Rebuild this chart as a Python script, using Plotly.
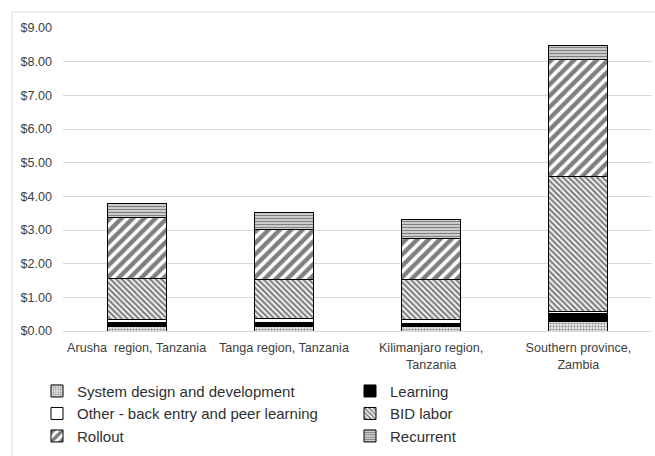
import plotly.graph_objects as go

categories = ["Arusha\u00a0 region, Tanzania", "Tanga region, Tanzania",
              "Kilimanjaro region,<br>Tanzania", "Southern province,<br>Zambia"]
system_design = [0.12, 0.13, 0.12, 0.27]
learning = [0.12, 0.11, 0.11, 0.25]
other = [0.10, 0.12, 0.10, 0.06]
bid_labor = [1.23, 1.18, 1.21, 4.02]
rollout = [1.79, 1.47, 1.20, 3.47]
recurrent = [0.44, 0.50, 0.56, 0.40]
y_ticks = [0, 1, 2, 3, 4, 5, 6, 7, 8, 9]
y_tick_labels = ["$%.2f" % v for v in y_ticks]

series = [
    ("System design and development", system_design, dict(shape=".", size=3, solidity=0.5, fgcolor="#303030", bgcolor="white"), "legend"),
    ("Learning", learning, None, "legend2"),
    ("Other - back entry and peer learning", other, None, "legend"),
    ("BID labor", bid_labor, dict(shape="\\", size=4, solidity=0.55, fgcolor="black", bgcolor="white"), "legend2"),
    ("Rollout", rollout, dict(shape="/", size=8, solidity=0.55, fgcolor="black", bgcolor="white"), "legend"),
    ("Recurrent", recurrent, dict(shape="-", size=3, solidity=0.6, fgcolor="black", bgcolor="white"), "legend2"),
]
solid_colors = {"Learning": "black", "Other - back entry and peer learning": "white"}

fig = go.Figure()
for name, vals, pat, lg in series:
    marker = dict(line=dict(color="black", width=1))
    if pat is None:
        marker["color"] = solid_colors[name]
    else:
        marker["color"] = "white"
        marker["pattern"] = pat
    fig.add_trace(go.Bar(name=name, x=categories, y=vals, marker=marker, width=0.4, legend=lg))

W, H = 655, 456
L, R, T, B = 63, 3, 28, 123
pw, ph = W - L - R, H - T - B

leg_common = dict(orientation="v", xanchor="left", yanchor="top", traceorder="normal",
                  font=dict(size=15, color="#303030"), tracegroupgap=0,
                  itemwidth=30, bgcolor="rgba(0,0,0,0)")
fig.update_layout(
    width=W, height=H, barmode="stack",
    margin=dict(l=L, r=R, t=T, b=B),
    paper_bgcolor="white", plot_bgcolor="white",
    font=dict(family="Arial, Liberation Sans, sans-serif", size=12.6, color="#404040"),
    xaxis=dict(showgrid=False, showline=True, linecolor="#d9d9d9", linewidth=1,
               tickfont=dict(size=12.6, color="#404040"), ticks="", ticklabelstandoff=5),
    yaxis=dict(range=[0, 9], tickvals=y_ticks, ticktext=y_tick_labels,
               showgrid=True, gridcolor="#d9d9d9", gridwidth=1, zeroline=False,
               ticks="", ticklabelstandoff=10, tickfont=dict(size=12.6, color="#404040")),
    legend=dict(x=(37 - L) / pw, y=-(44 / ph), **leg_common),
    legend2=dict(x=(350 - L) / pw, y=-(44 / ph), **leg_common),
    showlegend=True,
)
fig.add_shape(type="rect", xref="paper", yref="paper",
              x0=(12 - L) / pw, x1=1.2, y0=-1, y1=1 + (T - 12) / ph,
              line=dict(color="#d9d9d9", width=1), layer="below")

fig.write_html("out.html", config={"displayModeBar": False},
               post_script="document.body.style.margin='0px';document.body.style.overflow='hidden';")
